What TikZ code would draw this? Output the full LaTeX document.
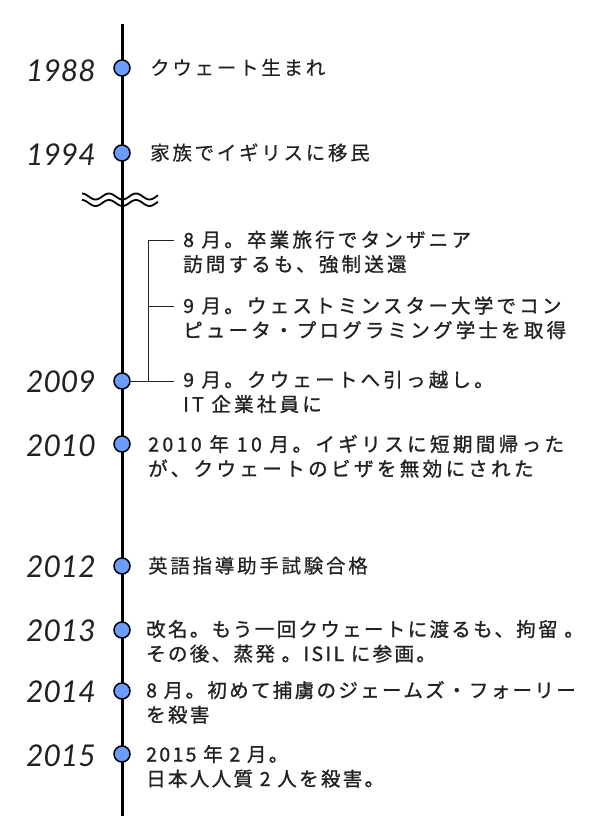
\documentclass[tikz,border=0pt]{standalone}
\usepackage{fontspec}
\newfontfamily\yearfont{Lato}
\newfontfamily\jp[LetterSpace=14,FakeBold=0.4]{Noto Sans CJK JP}
\newfontfamily\jpb[LetterSpace=16.5,FakeBold=1.1]{Noto Sans CJK JP}
\newfontfamily\jpc[LetterSpace=17.5,FakeBold=1.2]{Noto Sans CJK JP}
\newfontfamily\jpd[LetterSpace=12,FakeBold=1.1]{Noto Sans CJK JP}
\definecolor{dotblue}{HTML}{6A9CFF}
\definecolor{txt}{HTML}{222222}
\begin{document}
\begin{tikzpicture}[x=1pt,y=-1pt,
  yr/.style={anchor=east,font=\yearfont\itshape\fontsize{30}{30}\selectfont,text=txt,inner sep=0pt},
  ev/.style={anchor=base west,align=left,font=\jp\fontsize{19.5}{24.5}\selectfont,text=txt,inner sep=0pt},
  evb/.style={ev,font=\jpb\fontsize{19.5}{24.5}\selectfont},
  evc/.style={ev,font=\jpc\fontsize{19.5}{24.5}\selectfont},
  evd/.style={ev,font=\jpd\fontsize{19.5}{24.5}\selectfont},
  dot/.style={circle,draw=black,line width=1.5pt,fill=dotblue,minimum size=16pt,inner sep=0pt},
  brk/.style={draw=txt,line width=0.9pt},
  wave/.style={draw=black,line width=1.8pt}]
\useasboundingbox (0,0) rectangle (600,816);
\coordinate (top) at (122,24);
\coordinate (bot) at (122,816);
\draw[line width=3pt] (top) -- (bot);
% squiggle
\draw[wave,domain=0:76,samples=90] plot ({82+\x},{196.5-3*cos(\x*13.333)});
\draw[wave,domain=0:76,samples=90] plot ({82+\x},{203-3*cos(\x*13.333)});
% dots
\node[dot] (d1988) at (122,68) {};
\node[dot] (d1994) at (122,153) {};
\node[dot] (d2009) at (122,381) {};
\node[dot] (d2010) at (122,444) {};
\node[dot] (d2012) at (122,566) {};
\node[dot] (d2013) at (122,630) {};
\node[dot] (d2014) at (122,691) {};
\node[dot] (d2015) at (122,754) {};
% years
\node[yr] (y1988) at (96,71) {1988};
\node[yr] (y1994) at (96,155) {1994};
\node[yr] (y2009) at (96,382) {2009};
\node[yr] (y2010) at (96,446) {2010};
\node[yr] (y2012) at (96,567) {2012};
\node[yr] (y2013) at (96,631) {2013};
\node[yr] (y2014) at (96,692) {2014};
\node[yr] (y2015) at (96,756) {2015};
% events (base = baseline of last line)
\node[ev] (e1988) at (150,75) {クウェート生まれ};
\node[ev] (e1994) at (150,160) {家族でイギリスに移民};
\node[evb] (e2009a) at (183,271.5) {8 月。卒業旅行でタンザニア\\訪問するも、強制送還};
\node[evb] (e2009b) at (183,337.5) {9 月。ウェストミンスター大学でコン\\ピュータ・プログラミング学士を取得};
\node[evb] (e2009c) at (183,411.5) {9 月。クウェートへ引っ越し。\\IT 企業社員に};
\node[evc] (e2010) at (148,476) {2010 年 10 月。イギリスに短期間帰った\\が、クウェートのビザを無効にされた};
\node[ev] (e2012) at (148,573) {英語指導助手試験合格};
\node[evd] (e2013) at (146,661) {改名。もう一回クウェートに渡るも、拘留 。\\その後、蒸発 。ISIL に参画。};
\node[evd] (e2014) at (146,722) {8 月。初めて捕虜のジェームズ・フォーリー\\を殺害};
\node[evd] (e2015) at (146,786) {2015 年 2 月。\\日本人人質 2 人を殺害。};
% bracket
\coordinate (kt) at (148,240);
\coordinate (km) at (148,306);
\coordinate (ka) at (174,240);
\coordinate (kb) at (174,306);
\coordinate (kc) at (174,381);
\draw[brk] (ka) -- (kt) -- (kt |- d2009.center);
\draw[brk] (km) -- (kb);
\draw[brk] (d2009.east) -- (kc);
\end{tikzpicture}
\end{document}
